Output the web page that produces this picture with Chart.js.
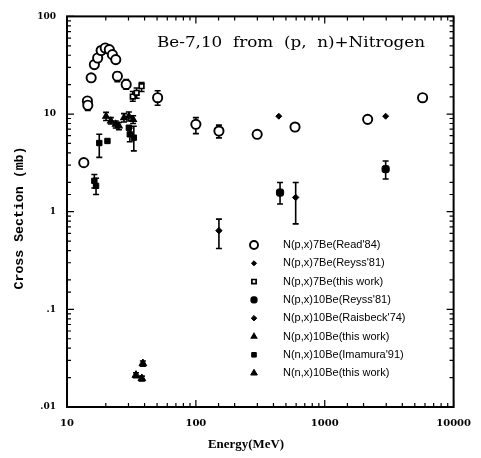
<!DOCTYPE html>
<html><head><meta charset="utf-8">
<script src="https://cdn.jsdelivr.net/npm/chart.js@4/dist/chart.umd.min.js"></script>
<style>html,body{margin:0;padding:0;background:#fff}#wrap{width:481px;height:458px}</style>
</head><body><div id="wrap"><canvas id="c" width="481" height="458"></canvas></div>
<script>
// ---------- texts ----------
const chartTitle = 'Be-7,10  from  (p,  n)+Nitrogen';
const xAxisTitle = 'Energy(MeV)';
const yAxisTitle = 'Cross Section (mb)';
const xTickValues = [10, 100, 1000, 10000];
const xTickLabels = ['10', '100', '1000', '10000'];
const yTickValues = [0.01, 0.1, 1, 10, 100];
const yTickLabels = ['.01', '.1', '1', '10', '100'];
const seriesNames = [
  "N(p,x)7Be(Read'84)",
  "N(p,x)7Be(Reyss'81)",
  "N(p,x)7Be(this work)",
  "N(p,x)10Be(Reyss'81)",
  "N(p,x)10Be(Raisbeck'74)",
  "N(p,x)10Be(this work)",
  "N(n,x)10Be(Imamura'91)",
  "N(n,x)10Be(this work)"
];

// ---------- data (energy MeV, cross section mb, error low/high) ----------
const readE  = [13.5, 14.4, 14.5, 15.4, 16.3, 17.3, 18.4, 19.8, 21.3, 22.5, 23.9, 24.6, 28.8, 50.5, 100, 151, 299, 588, 2153, 5745];
const readXS = [3.18, 13.6, 12.3, 23.5, 32.1, 37.5, 44.7, 47.5, 45.7, 40.6, 36.1, 24.4, 20.1, 14.7, 7.85, 6.7, 6.2, 7.36, 8.83, 14.7];
const readLo = [null, null, 10.9, null, null, null, null, null, null, null, null, 21.5, 18.0, 12.3, 6.3, 5.7, null, null, null, 13.5];
const readHi = [null, null, 13.6, null, null, null, null, null, null, null, null, 27.0, 22.5, 17.3, 9.2, 7.7, null, null, null, 15.5];

const reyss7E  = [440, 2970];
const reyss7XS = [9.5, 9.5];

const work7E  = [32.4, 34.7, 37.9];
const work7XS = [15.1, 16.5, 19.3];
const work7Lo = [13.5, 14.5, 17.0];
const work7Hi = [17.0, 18.5, 21.0];

const reyss10E  = [450, 2970];
const reyss10XS = [1.57, 2.73];
const reyss10Lo = [1.2, 2.16];
const reyss10Hi = [1.99, 3.31];

const raisbeckE  = [151, 595];
const raisbeckXS = [0.64, 1.40];
const raisbeckLo = [0.42, 0.75];
const raisbeckHi = [0.84, 1.99];

const workP10E  = [20.1, 21.9, 23.9, 25.3, 27.7, 30.2, 32.6];
const workP10XS = [9.5, 8.5, 7.85, 7.55, 9.17, 9.5, 8.8];
const workP10Lo = [8.6, 7.9, 7.2, 6.9, 8.3, 8.5, 8.0];
const workP10Hi = [10.4, 9.2, 8.5, 8.2, 10.1, 10.5, 9.6];

const imamuraE  = [17.8, 20.6, 16.3, 16.8, 30.2, 30.7, 33.0];
const imamuraXS = [5.05, 5.3, 2.07, 1.84, 7.25, 6.2, 5.73];
const imamuraLo = [3.6, null, 1.75, 1.5, null, 5.2, 4.2];
const imamuraHi = [6.2, null, 2.4, 2.2, null, 7.2, 7.5];

const workN10E  = [38.8, 34.3, 38.1];
const workN10XS = [0.0279, 0.0212, 0.0196];
const workN10Lo = [0.0262, 0.0200, 0.0185];
const workN10Hi = [0.0296, 0.0224, 0.0207];

function pts(E, XS, lo, hi) {
  return E.map((e, i) => ({ x: e, y: XS[i], lo: lo ? lo[i] : null, hi: hi ? hi[i] : null }));
}

const styles = [
  { pointStyle: 'circle', radius: 4.6, fill: '#fff', bw: 1.9 },
  { pointStyle: 'rectRot', radius: 3, fill: '#000', bw: 1 },
  { pointStyle: 'rect', radius: 3.3, fill: '#fff', bw: 1.7 },
  { pointStyle: 'rectRounded', radius: 4.2, fill: '#000', bw: 1 },
  { pointStyle: 'rectRot', radius: 3.2, fill: '#000', bw: 1 },
  { pointStyle: 'triangle', radius: 3.8, fill: '#000', bw: 1.2 },
  { pointStyle: 'rect', radius: 3.8, fill: '#000', bw: 1 },
  { pointStyle: 'triangle', radius: 4.5, fill: '#000', bw: 1 }
];
const seriesData = [
  pts(readE, readXS, readLo, readHi),
  pts(reyss7E, reyss7XS),
  pts(work7E, work7XS, work7Lo, work7Hi),
  pts(reyss10E, reyss10XS, reyss10Lo, reyss10Hi),
  pts(raisbeckE, raisbeckXS, raisbeckLo, raisbeckHi),
  pts(workP10E, workP10XS, workP10Lo, workP10Hi),
  pts(imamuraE, imamuraXS, imamuraLo, imamuraHi),
  pts(workN10E, workN10XS, workN10Lo, workN10Hi)
];
// draw filled markers first, then open ones on top
const drawOrder = [7, 6, 5, 4, 3, 1, 2, 0];

const datasets = seriesNames.map((name, i) => ({
  label: name,
  data: seriesData[i],
  pointStyle: styles[i].pointStyle,
  pointRadius: styles[i].radius,
  pointHoverRadius: styles[i].radius,
  backgroundColor: styles[i].fill,
  borderColor: '#000',
  borderWidth: styles[i].bw,
  order: drawOrder.indexOf(i),
  showLine: false
}));

function matchLabel(v, vals, labels) {
  for (let i = 0; i < vals.length; i++) {
    if (Math.abs(Math.log10(v) - Math.log10(vals[i])) < 1e-6) return labels[i];
  }
  return '';
}
function isDecade(v) { const l = Math.log10(v); return Math.abs(l - Math.round(l)) < 1e-6; }

function fitText(ctx, text, font, x, y, width, align) {
  ctx.font = font;
  const w = ctx.measureText(text).width;
  const s = width / w;
  ctx.save();
  ctx.translate(x, y);
  ctx.scale(s, 1);
  ctx.textAlign = align || 'left';
  ctx.fillText(text, 0, 0);
  ctx.restore();
}

const decorPlugin = {
  id: 'decor',
  beforeDatasetsDraw(chart) {
    const { ctx, chartArea: a, scales: { x, y } } = chart;
    ctx.save();
    ctx.strokeStyle = '#000';
    // frame
    ctx.lineWidth = 2;
    ctx.strokeRect(a.left, a.top, a.right - a.left, a.bottom - a.top);
    // ticks (inward, all four sides)
    ctx.lineWidth = 1.2;
    x.ticks.forEach(t => {
      const px = x.getPixelForValue(t.value);
      if (px < a.left - 0.5 || px > a.right + 0.5) return;
      const L = isDecade(t.value) ? 7 : 4;
      ctx.beginPath();
      ctx.moveTo(px, a.bottom); ctx.lineTo(px, a.bottom - L);
      ctx.moveTo(px, a.top); ctx.lineTo(px, a.top + L);
      ctx.stroke();
    });
    y.ticks.forEach(t => {
      const py = y.getPixelForValue(t.value);
      if (py < a.top - 0.5 || py > a.bottom + 0.5) return;
      const L = isDecade(t.value) ? 7 : 4;
      ctx.beginPath();
      ctx.moveTo(a.left, py); ctx.lineTo(a.left + L, py);
      ctx.moveTo(a.right, py); ctx.lineTo(a.right - L, py);
      ctx.stroke();
    });
    // error bars
    ctx.lineWidth = 1.6;
    chart.data.datasets.forEach(ds => {
      ds.data.forEach(p => {
        if (p.lo == null || p.hi == null) return;
        const px = x.getPixelForValue(p.x);
        const y1 = y.getPixelForValue(p.lo), y2 = y.getPixelForValue(p.hi);
        ctx.beginPath();
        ctx.moveTo(px, y1); ctx.lineTo(px, y2);
        ctx.moveTo(px - 3, y1); ctx.lineTo(px + 3, y1);
        ctx.moveTo(px - 3, y2); ctx.lineTo(px + 3, y2);
        ctx.stroke();
      });
    });
    ctx.restore();
  },
  afterDraw(chart) {
    const { ctx } = chart;
    ctx.save();
    ctx.fillStyle = '#000';
    ctx.textBaseline = 'alphabetic';
    // title inside plot
    fitText(ctx, chartTitle, '15px "DejaVu Serif"', 157, 47, 268, 'left');
    // axis titles
    ctx.textBaseline = 'middle';
    fitText(ctx, xAxisTitle, 'bold 13px "Liberation Serif"', 246, 445, 76, 'center');
    ctx.save();
    ctx.translate(20, 218);
    ctx.rotate(-Math.PI / 2);
    fitText(ctx, yAxisTitle, 'bold 13px "Liberation Mono"', 0, 0, 143, 'center');
    ctx.restore();
    // legend
    const lx = 254, tx = 283, ly0 = 245, dy = 18.3;
    chart.data.datasets.forEach((ds, i) => {
      const yy = ly0 + i * dy;
      ctx.fillStyle = ds.backgroundColor;
      ctx.strokeStyle = '#000';
      ctx.lineWidth = ds.borderWidth;
      const r = i === 0 ? 4 : (i === 2 ? 3 : ds.pointRadius * 0.85);
      Chart.helpers.drawPoint(ctx, { pointStyle: ds.pointStyle, radius: r, rotation: 0, borderWidth: ds.borderWidth }, lx, yy);
      ctx.fillStyle = '#000';
      ctx.font = '11px "Liberation Sans"';
      ctx.textAlign = 'left';
      ctx.textBaseline = 'middle';
      ctx.fillText(ds.label, tx, yy);
    });
    ctx.restore();
  }
};

Chart.defaults.font.family = '"DejaVu Serif"';
Chart.defaults.color = '#000';

new Chart(document.getElementById('c'), {
  type: 'scatter',
  data: { datasets },
  options: {
    responsive: false,
    animation: false,
    devicePixelRatio: 1,
    layout: { padding: { top: 15, right: 20, left: 0, bottom: 0 } },
    plugins: { legend: { display: false }, tooltip: { enabled: false }, title: { display: false } },
    scales: {
      x: {
        type: 'logarithmic', min: 10, max: 10000,
        grid: { display: false, drawTicks: false },
        border: { display: false },
        ticks: {
          autoSkip: false, maxRotation: 0, minRotation: 0, padding: 10,
          font: { family: '"DejaVu Serif"', size: 10, weight: 'bold' },
          callback: v => matchLabel(v, xTickValues, xTickLabels)
        },
        afterFit: s => { s.height = 51; }
      },
      y: {
        type: 'logarithmic', min: 0.01, max: 100,
        grid: { display: false, drawTicks: false },
        border: { display: false },
        ticks: {
          autoSkip: false, padding: 11,
          font: { family: '"DejaVu Serif"', size: 9, weight: 'bold' },
          callback: v => matchLabel(v, yTickValues, yTickLabels)
        },
        afterFit: s => { s.width = 67; }
      }
    }
  },
  plugins: [decorPlugin]
});
</script>
</body></html>
